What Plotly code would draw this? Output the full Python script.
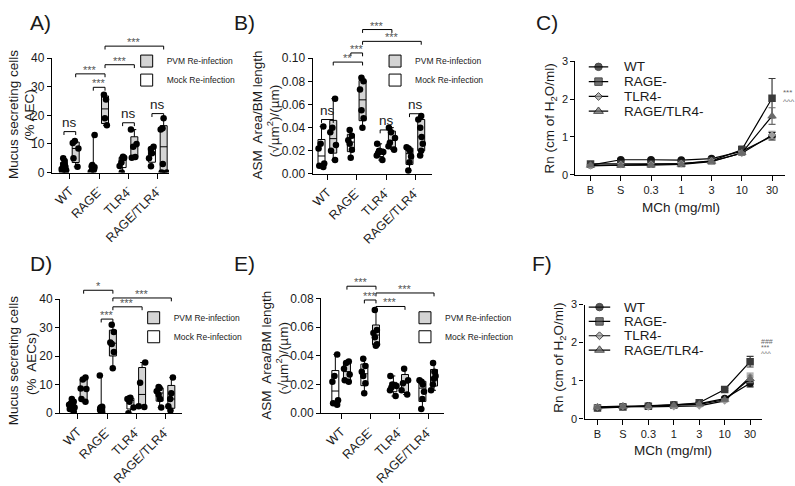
import numpy as np
import plotly.graph_objects as go

W, H = 795, 486
FONT = "Liberation Sans, Arial, Helvetica, sans-serif"
TXT = "#1a1a1a"

GENOTYPES = ["WT", "RAGE<sup>-</sup>", "TLR4<sup>-</sup>", "RAGE/TLR4<sup>-</sup>"]
DOSES = ["B", "S", "0.3", "1", "3", "10", "30"]
SERIES = ["WT", "RAGE-", "TLR4-", "RAGE/TLR4-"]

# ---------------- data: panel A (mucus secreting cells, % AEC)
A_MOCK = [[0.2, 0.5, 0.8, 1.2, 1.6, 2.0, 3.0, 4.0, 5.0],
          [0.2, 0.8, 1.2, 1.8, 2.2, 2.6, 13.1],
          [0.0, 2.3, 3.5, 5.0, 5.2, 5.5],
          [2.2, 5.0, 6.7, 8.2, 9.0]]
A_PVM = [[2.0, 5.0, 8.4, 10.3, 11.0],
         [16.5, 19.0, 25.5, 27.2],
         [5.2, 5.4, 9.0, 10.0, 15.0],
         [0.0, 0.0, 3.0, 15.0, 15.5, 19.0]]
# ---------------- panel B (ASM area / BM length)
B_MOCK = [[0.006, 0.007, 0.009, 0.022, 0.026, 0.041],
          [0.014, 0.021, 0.026, 0.029, 0.033, 0.038],
          [0.012, 0.016, 0.018, 0.019, 0.020, 0.026],
          [0.003, 0.010, 0.015, 0.020, 0.022, 0.023]]
B_PVM = [[0.012, 0.020, 0.025, 0.036, 0.040, 0.065],
         [0.040, 0.048, 0.055, 0.073, 0.080, 0.083],
         [0.021, 0.024, 0.027, 0.031, 0.036, 0.040],
         [0.016, 0.020, 0.026, 0.032, 0.040, 0.047, 0.050]]
# ---------------- panel C (Rn, mean and SEM)
C_WT = [0.26, 0.40, 0.40, 0.39, 0.43, 0.62, 1.02]
C_WT_SEM = [0.02, 0.02, 0.02, 0.02, 0.03, 0.06, 0.10]
C_RAGE = [0.29, 0.29, 0.29, 0.30, 0.37, 0.66, 2.02]
C_RAGE_SEM = [0.02, 0.02, 0.02, 0.02, 0.03, 0.10, 0.52]
C_TLR4 = [0.24, 0.27, 0.28, 0.30, 0.36, 0.57, 1.05]
C_TLR4_SEM = [0.02, 0.02, 0.02, 0.02, 0.03, 0.05, 0.10]
C_RT = [0.25, 0.25, 0.26, 0.28, 0.35, 0.58, 1.55]
C_RT_SEM = [0.02, 0.02, 0.02, 0.02, 0.03, 0.06, 0.22]
# ---------------- panel D
D_MOCK = [[0.5, 1.5, 2.0, 3.0, 3.5, 4.0, 5.0],
          [0.3, 0.8, 1.2, 1.5, 2.0, 2.3, 13.2],
          [0.0, 2.0, 4.0, 5.0, 5.2, 5.4],
          [2.0, 5.0, 6.5, 7.7, 8.8, 9.2]]
D_PVM = [[4.0, 5.0, 8.5, 8.7, 11.8, 12.5],
         [15.8, 21.5, 24.3, 24.8, 28.5, 31.0],
         [2.2, 2.5, 10.7, 17.8],
         [1.0, 2.5, 5.0, 7.0, 12.5]]
# ---------------- panel E
E_MOCK = [[0.006, 0.007, 0.009, 0.022, 0.026, 0.041],
          [0.014, 0.021, 0.026, 0.029, 0.033, 0.038],
          [0.012, 0.016, 0.018, 0.019, 0.020, 0.026],
          [0.003, 0.010, 0.015, 0.020, 0.022, 0.023]]
E_PVM = [[0.022, 0.023, 0.027, 0.031, 0.035, 0.036],
         [0.047, 0.048, 0.053, 0.056, 0.058, 0.072],
         [0.013, 0.016, 0.021, 0.023, 0.031],
         [0.016, 0.020, 0.024, 0.026, 0.029, 0.035]]
# ---------------- panel F
F_WT = [0.29, 0.32, 0.34, 0.37, 0.40, 0.53, 0.93]
F_WT_SEM = [0.02, 0.02, 0.02, 0.02, 0.02, 0.03, 0.09]
F_RAGE = [0.28, 0.31, 0.33, 0.36, 0.42, 0.77, 1.50]
F_RAGE_SEM = [0.02, 0.02, 0.02, 0.02, 0.02, 0.03, 0.14]
F_TLR4 = [0.31, 0.33, 0.31, 0.32, 0.34, 0.47, 1.10]
F_TLR4_SEM = [0.02, 0.02, 0.02, 0.02, 0.02, 0.03, 0.10]
F_RT = [0.30, 0.32, 0.33, 0.35, 0.38, 0.50, 1.05]
F_RT_SEM = [0.02, 0.02, 0.02, 0.02, 0.02, 0.03, 0.10]

# significance brackets: (group1, side1, group2, side2, level, label); side -1 mock, +1 PVM
A_SIG = [(0, -1, 0, 1, 14.3, "ns"), (1, -1, 1, 1, 29.8, "***"), (0, 1, 1, 1, 34.5, "***"),
         (1, 1, 2, 1, 37.7, "***"), (1, 1, 3, 1, 44.2, "***"), (2, -1, 2, 1, 17.4, "ns"),
         (3, -1, 3, 1, 20.6, "ns")]
B_SIG = [(0, -1, 0, 1, 0.047, "ns"), (0, 1, 1, 1, 0.0966, "**"), (1, -1, 1, 1, 0.1045, "***"),
         (1, 1, 2, 1, 0.1247, "***"), (1, 1, 3, 1, 0.1145, "***"), (2, -1, 2, 1, 0.038, "ns"),
         (3, -1, 3, 1, 0.052, "ns")]
D_SIG = [(0, 1, 1, 1, 43.1, "*"), (1, -1, 1, 1, 33.0, "***"), (1, 1, 2, 1, 37.3, "***"),
         (1, 1, 3, 1, 40.4, "***")]
E_SIG = [(0, 1, 1, 1, 0.0885, "***"), (1, -1, 1, 1, 0.0789, "***"), (1, 1, 3, 1, 0.0838, "***"),
         (1, 1, 2, 1, 0.0744, "***")]

OFF = 0.2
PVM_FILL = "#d4d4d4"

fig = go.Figure()
layout = dict(width=W, height=H, margin=dict(l=0, r=0, t=0, b=0),
              paper_bgcolor="white", plot_bgcolor="rgba(0,0,0,0)", showlegend=True,
              font=dict(family=FONT, color=TXT))
annots = []


def xdom(px0, ppu, xr):
    return [(px0 + xr[0] * ppu) / W, (px0 + xr[1] * ppu) / W]


def ydom(py0, yppu, yr):
    return [1 - (py0 - yr[0] * yppu) / H, 1 - (py0 - yr[1] * yppu) / H]


def stats(vals):
    v = np.asarray(vals, float)
    q1, med, q3 = np.percentile(v, [25, 50, 75], method="weibull")
    return q1, med, q3, v.min(), v.max()


def box_panel(idx, mock, pvm, sig, spec):
    xa = "x" if idx == 1 else f"x{idx}"
    ya = "y" if idx == 1 else f"y{idx}"
    yb = spec["ybr"]
    lg = spec["legend"]
    ppu, yppu = spec["ppu"], spec["yppu"]
    bw = 7.0 / ppu
    for name, data, side, fill in (("PVM Re-infection", pvm, 1, PVM_FILL),
                                   ("Mock Re-infection", mock, -1, "white")):
        st = [stats(d) for d in data]
        xs = [g + side * OFF for g in range(len(data))]
        fig.add_trace(go.Box(
            x=xs, q1=[s[0] for s in st], median=[s[1] for s in st], q3=[s[2] for s in st],
            lowerfence=[s[3] for s in st], upperfence=[s[4] for s in st],
            orientation="v", width=bw, fillcolor=fill, line=dict(color="black", width=1),
            whiskerwidth=0.55, boxpoints=False, name=name, legend=lg,
            showlegend=True, xaxis=xa, yaxis=ya, hoverinfo="skip"))
        px = np.concatenate([[g + side * OFF] * len(d) for g, d in enumerate(data)])
        py = np.concatenate([np.asarray(d, float) for d in data])
        fig.add_trace(go.Box(
            x=px, y=py, orientation="v", boxpoints="all", jitter=1.0, pointpos=0, width=bw,
            marker=dict(color="black", size=6.5), line=dict(color="rgba(0,0,0,0)", width=0),
            fillcolor="rgba(0,0,0,0)", whiskerwidth=0, showlegend=False,
            xaxis=xa, yaxis=ya, hoverinfo="skip"))
    arm = 3.5 / yppu
    for g1, s1, g2, s2, lev, lab in sig:
        x1, x2 = g1 + s1 * OFF, g2 + s2 * OFF
        fig.add_trace(go.Scatter(x=[x1, x1, x2, x2], y=[lev - arm, lev, lev, lev - arm],
                                 mode="lines", line=dict(color="black", width=1),
                                 xaxis=xa, yaxis=yb, showlegend=False, hoverinfo="skip"))
        star = lab != "ns"
        annots.append(dict(x=(x1 + x2) / 2, y=lev, xref=xa, yref=yb, text=lab,
                           showarrow=False, yanchor="bottom",
                           yshift=-4 if star else 0,
                           font=dict(size=11 if star else 13.5,
                                     color="#555" if star else TXT)))
    xr, yr, ybr_r = spec["xr"], spec["yr"], spec["ybr_r"]
    key = "" if idx == 1 else str(idx)
    layout["xaxis" + key] = dict(domain=xdom(spec["px0"], ppu, xr), range=xr, anchor=ya,
                                 tickvals=list(range(4)), ticktext=GENOTYPES, tickangle=-45,
                                 ticks="outside", ticklen=5, tickwidth=1.2, tickcolor="black",
                                 showline=True, linecolor="black", linewidth=1.3,
                                 showgrid=False, zeroline=False,
                                 tickfont=dict(size=12.5, color=TXT))
    layout["yaxis" + key] = dict(domain=ydom(spec["py0"], yppu, yr), range=yr, anchor=xa,
                                 tickvals=spec["ytv"], tickformat=spec["yfmt"],
                                 ticks="outside", ticklen=4, tickwidth=1.2, tickcolor="black",
                                 showline=True, linecolor="black", linewidth=1.3,
                                 showgrid=False, zeroline=False,
                                 tickfont=dict(size=12, color=TXT))
    layout["yaxis" + yb[1:]] = dict(domain=ydom(spec["py0"], yppu, ybr_r), range=ybr_r,
                                    anchor=xa, visible=False)
    layout[lg] = dict(x=spec["lx"] / W, y=1 - spec["ly"] / H, xanchor="left", yanchor="top",
                      bgcolor="rgba(0,0,0,0)", font=dict(size=8.5, color=TXT),
                      itemwidth=30, tracegroupgap=0)


box_panel(1, A_MOCK, A_PVM, A_SIG,
          dict(px0=68, ppu=29.4, xr=[-0.61, 3.38], py0=171.5, yppu=2.9625, yr=[0, 40],
               ybr="y7", ybr_r=[0, 48], ytv=[0, 10, 20, 30, 40], yfmt="d",
               legend="legend", lx=125, ly=41))
box_panel(2, B_MOCK, B_PVM, B_SIG,
          dict(px0=326.2, ppu=29.4, xr=[-0.5, 3.58], py0=173, yppu=1200, yr=[0, 0.1],
               ybr="y8", ybr_r=[0, 0.132], ytv=[0, 0.02, 0.04, 0.06, 0.08, 0.10], yfmt=".2f",
               legend="legend2", lx=374, ly=41))
box_panel(4, D_MOCK, D_PVM, D_SIG,
          dict(px0=76, ppu=29.3, xr=[-0.6, 3.55], py0=421, yppu=2.9575, yr=[0, 40],
               ybr="y9", ybr_r=[0, 47], ytv=[0, 10, 20, 30, 40], yfmt="d",
               legend="legend4", lx=132, ly=307))
box_panel(5, E_MOCK, E_PVM, E_SIG,
          dict(px0=340, ppu=29.1, xr=[-0.69, 3.54], py0=421, yppu=1487.5, yr=[0, 0.08],
               ybr="y10", ybr_r=[0, 0.095], ytv=[0, 0.02, 0.04, 0.06, 0.08], yfmt=".2f",
               legend="legend5", lx=404, ly=307))

STYLES = [("circle", 7.5, "#111111"), ("square", 7.5, "#3a3a3a"),
          ("diamond", 6, "#9c9c9c"), ("triangle-up", 8.5, "#6a6a6a")]


def line_panel(idx, means, sems, spec, lx_ax, ly_ax, marks):
    xa, ya = f"x{idx}", f"y{idx}"
    for (sym, sz, col), m, s in zip(STYLES, means, sems):
        fig.add_trace(go.Scatter(
            x=DOSES, y=m, mode="lines+markers",
            error_y=dict(type="data", array=s, color=col, thickness=1.2, width=3.5),
            line=dict(color="black", width=1.2), marker=dict(symbol=sym, size=sz, color=col),
            xaxis=xa, yaxis=ya, showlegend=False, hoverinfo="skip"))
    xr, yr = spec["xr"], [0, 3]
    layout[f"xaxis{idx}"] = dict(domain=xdom(spec["px0"], spec["ppu"], xr), range=xr,
                                 type="category", anchor=ya, ticks="outside", ticklen=5,
                                 tickwidth=1.2, tickcolor="black", showline=True,
                                 linecolor="black", linewidth=1.3, showgrid=False,
                                 zeroline=False, tickfont=dict(size=11, color=TXT))
    layout[f"yaxis{idx}"] = dict(domain=ydom(spec["py0"], spec["yppu"], yr), range=yr,
                                 anchor=xa, tickvals=[0, 1, 2, 3], ticks="outside", ticklen=4,
                                 tickwidth=1.2, tickcolor="black", showline=True,
                                 linecolor="black", linewidth=1.3, showgrid=False,
                                 zeroline=False, tickfont=dict(size=11, color=TXT))
    # legend drawn on a hidden helper axis pair, one row per series
    lxa, lya = f"x{lx_ax}", f"y{ly_ax}"
    r0, r1 = spec["rows"]
    step = (r1 - r0) / 3
    layout[f"xaxis{lx_ax}"] = dict(domain=[spec["lgx"][0] / W, spec["lgx"][1] / W],
                                   range=[0, 1], visible=False, anchor=lya)
    layout[f"yaxis{ly_ax}"] = dict(domain=[1 - (r1 + step / 2) / H, 1 - (r0 - step / 2) / H],
                                   range=[3.5, -0.5], visible=False, anchor=lxa)
    for i, ((sym, sz, col), name) in enumerate(zip(STYLES, SERIES)):
        fig.add_trace(go.Scatter(x=[0, 0.5, 1], y=[i, i, i], mode="lines+markers",
                                 line=dict(color="black", width=1.2),
                                 marker=dict(symbol=sym, size=[0, sz, 0], color=col),
                                 xaxis=lxa, yaxis=lya, showlegend=False, hoverinfo="skip"))
        annots.append(dict(x=1, y=i, xref=lxa, yref=lya, text=name, showarrow=False,
                           xanchor="left", xshift=spec["tgap"], font=dict(size=13.5, color=TXT)))
    for txt, yv in marks:
        annots.append(dict(x=6, y=yv, xref=xa, yref=ya, text=txt, showarrow=False,
                           xanchor="left", xshift=spec["mshift"],
                           font=dict(size=spec["msize"], color="#666")))


line_panel(3, [C_WT, C_RAGE, C_TLR4, C_RT], [C_WT_SEM, C_RAGE_SEM, C_TLR4_SEM, C_RT_SEM],
           dict(px0=590, ppu=30.33, xr=[-0.5, 6.43], py0=174, yppu=39.33,
                rows=(62, 108), lgx=(588, 608), tgap=14, mshift=9, msize=8),
           7, 11, [("***", 2.17), ("^^^", 1.93)])
line_panel(6, [F_WT, F_RAGE, F_TLR4, F_RT], [F_WT_SEM, F_RAGE_SEM, F_TLR4_SEM, F_RT_SEM],
           dict(px0=597, ppu=25.5, xr=[-0.51, 6.47], py0=426.7, yppu=39.47,
                rows=(311, 355.5), lgx=(588, 610), tgap=12, mshift=9, msize=7),
           8, 12, [("###", 2.04), ("***", 1.88), ("^^^", 1.72)])


# axis titles and panel letters
def vtitle(text, xc, yc, size=13.5):
    annots.append(dict(x=xc / W, y=1 - yc / H, xref="paper", yref="paper", text=text,
                       textangle=-90, showarrow=False, xanchor="center", yanchor="middle",
                       font=dict(size=size, color=TXT)))


def htext(text, xc, yc, size, anchor="center"):
    annots.append(dict(x=xc / W, y=1 - yc / H, xref="paper", yref="paper", text=text,
                       showarrow=False, xanchor=anchor, yanchor="middle",
                       font=dict(size=size, color=TXT)))


vtitle("Mucus secreting cells", 11, 111)
vtitle("(% AEC)", 27, 112)
vtitle("ASM  Area/BM length", 256, 112)
vtitle("(√µm<sup>2</sup>)/(µm)", 272, 118)
vtitle("Rn (cm of H<sub>2</sub>O/ml)", 550, 116)
vtitle("Mucus secreting cells", 11, 366)
vtitle("(%  AECs)", 29, 370)
vtitle("ASM  Area/BM length", 265, 361)
vtitle("(√µm<sup>2</sup>)/(µm)", 281, 364)
vtitle("Rn (cm of H<sub>2</sub>O/ml)", 559, 364)
htext("MCh (mg/ml)", 681, 208, 13.5)
htext("MCh (mg/ml)", 673, 460, 13.5)
for lab, x, y in (("A)", 26, 16), ("B)", 231, 16), ("C)", 533, 16),
                  ("D)", 26, 266), ("E)", 231, 266), ("F)", 529, 266)):
    htext(lab, x, y, 21, anchor="left")

layout["annotations"] = annots
fig.update_layout(**layout)
fig.write_html("out.html", config={"displayModeBar": False},
               post_script="document.body.style.margin='0px';")
